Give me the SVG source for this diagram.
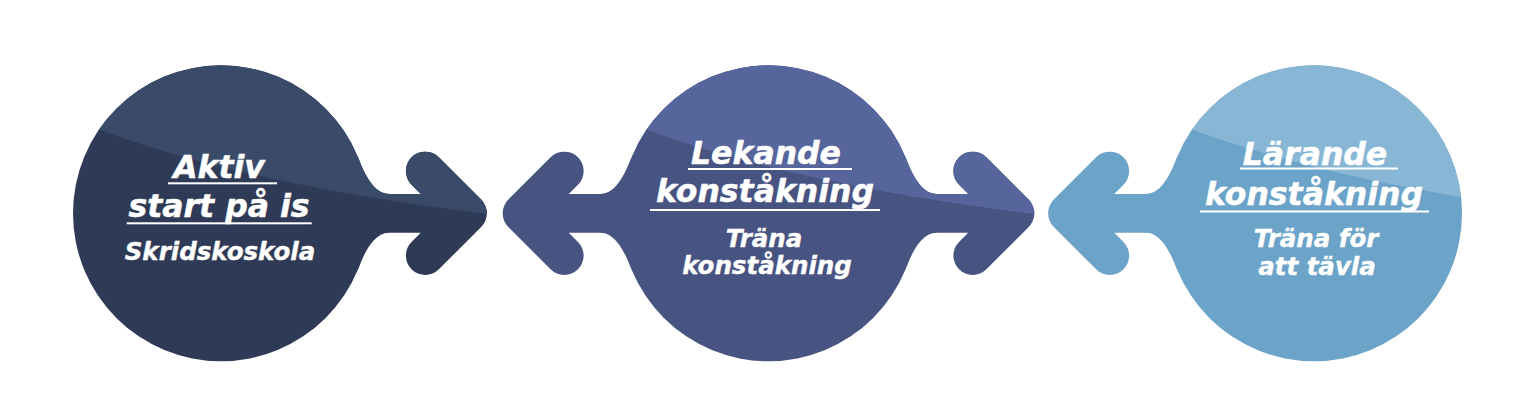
<svg xmlns="http://www.w3.org/2000/svg" xmlns:xlink="http://www.w3.org/1999/xlink" width="1528" height="416" viewBox="0 0 1528 416">
<style>
.arr{fill:none;stroke-width:38.7;stroke-linecap:round;stroke-linejoin:round}
.d1{fill:#2f3b56;stroke:#2f3b56}
.l1{fill:#3a4a69;stroke:#3a4a69}
.d2{fill:#475380;stroke:#475380}
.l2{fill:#56669c;stroke:#56669c}
.d3{fill:#6ca3c8;stroke:#6ca3c8}
.l3{fill:#88b7d5;stroke:#88b7d5}
.body{stroke:none}
text{font-family:"DejaVu Sans","Liberation Sans",sans-serif;font-weight:bold;font-style:italic;fill:#ffffff;stroke:#ffffff;stroke-linejoin:round;text-anchor:middle}
.h{font-size:31.5px;stroke-width:0.5}
.s{font-size:24.5px;stroke-width:0.4}
.ul{fill:#ffffff}
</style>
<defs>
<clipPath id="top1"><path d="M100,130 Q250,185 487,214 L520,214 L520,40 L40,40 L40,130 Z"/></clipPath>
<clipPath id="top2"><path d="M647.5,130 Q797.5,185 1034.5,214 L1060,214 L1060,40 L590,40 L590,130 Z"/></clipPath>
<clipPath id="top3"><path d="M1193,130 Q1343,185 1580,214 L1580,40 L1140,40 L1140,130 Z"/></clipPath>
<g id="body1" class="body">
<circle cx="221" cy="213.3" r="148"/>
<path d="M358,157.3 C362.5,168.4 372,193.95 389,193.95 L389,232.65 C372,232.65 362.5,258.2 358,269.3 Z"/>
</g>
<g id="body2" class="body">
<circle cx="768.5" cy="213.3" r="148"/>
<path d="M905.5,157.3 C910,168.4 919.5,193.95 936.5,193.95 L936.5,232.65 C919.5,232.65 910,258.2 905.5,269.3 Z"/>
<path d="M631.5,157.3 C627,168.4 617.5,193.95 600.5,193.95 L600.5,232.65 C617.5,232.65 627,258.2 631.5,269.3 Z"/>
</g>
<g id="body3" class="body">
<circle cx="1314" cy="213.3" r="148"/>
<path d="M1177,157.3 C1172.5,168.4 1163,193.95 1146,193.95 L1146,232.65 C1163,232.65 1172.5,258.2 1177,269.3 Z"/>
</g>
<path id="a1r" class="arr" d="M425.2,171 L467.5,213.3 L425.2,255.6 M380,213.3 L467.5,213.3"/>
<path id="a2r" class="arr" d="M972.7,171 L1015,213.3 L972.7,255.6 M920,213.3 L1015,213.3"/>
<path id="a2l" class="arr" d="M564.3,171 L522,213.3 L564.3,255.6 M617,213.3 L522,213.3"/>
<path id="a3l" class="arr" d="M1109.8,171 L1067.5,213.3 L1109.8,255.6 M1162,213.3 L1067.5,213.3"/>
</defs>

<g id="connectors">
<use xlink:href="#a1r" href="#a1r" class="d1"/>
<use xlink:href="#a1r" href="#a1r" class="l1" clip-path="url(#top1)"/>
<use xlink:href="#a2l" href="#a2l" class="d2"/>
<use xlink:href="#a2r" href="#a2r" class="d2"/>
<use xlink:href="#a2r" href="#a2r" class="l2" clip-path="url(#top2)"/>
<use xlink:href="#a3l" href="#a3l" class="d3"/>
</g>

<g id="node1">
<use xlink:href="#body1" href="#body1" class="d1"/>
<use xlink:href="#body1" href="#body1" class="l1" clip-path="url(#top1)"/>
<text class="h" x="219" y="178.3">Aktiv</text>
<rect class="ul" x="168" y="182.3" width="109" height="2"/>
<text class="h" x="219" y="216.7">start på is</text>
<rect class="ul" x="126.7" y="222.3" width="185" height="2"/>
<text class="s" x="220" y="260">Skridskoskola</text>
</g>

<g id="node2">
<use xlink:href="#body2" href="#body2" class="d2"/>
<use xlink:href="#body2" href="#body2" class="l2" clip-path="url(#top2)"/>
<text class="h" x="766" y="163.5">Lekande</text>
<rect class="ul" x="688" y="168" width="164" height="2"/>
<text class="h" x="765" y="201.5">konståkning</text>
<rect class="ul" x="650" y="209" width="230" height="2"/>
<text class="s" x="764" y="246.5">Träna</text>
<text class="s" x="767" y="273.5">konståkning</text>
</g>

<g id="node3">
<use xlink:href="#body3" href="#body3" class="d3"/>
<use xlink:href="#body3" href="#body3" class="l3" clip-path="url(#top3)"/>
<text class="h" x="1315" y="164.5">Lärande</text>
<rect class="ul" x="1240" y="167.5" width="158" height="2"/>
<text class="h" x="1314" y="205">konståkning</text>
<rect class="ul" x="1200" y="210.5" width="229" height="2"/>
<text class="s" x="1316" y="246.5">Träna för</text>
<text class="s" x="1317" y="274.5">att tävla</text>
</g>
</svg>
